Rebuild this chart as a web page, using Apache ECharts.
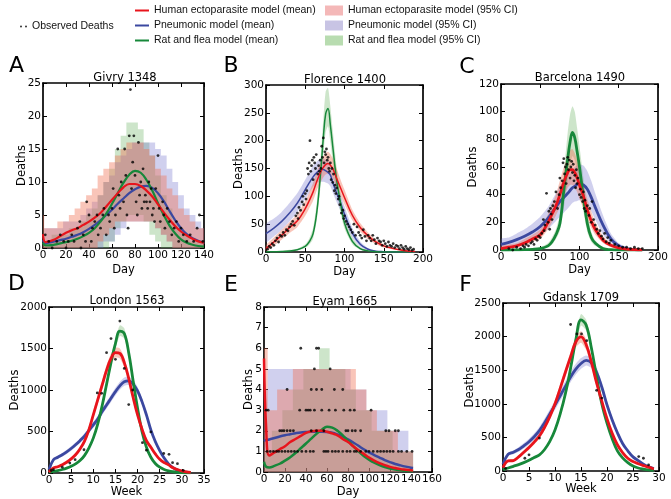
<!DOCTYPE html>
<html><head><meta charset="utf-8">
<script src="https://cdn.jsdelivr.net/npm/echarts@6/dist/echarts.min.js"></script>
<style>html,body{margin:0;padding:0;background:#fff}#c{width:671px;height:499px}</style>
</head><body><div id="c"></div>
<script>
// ---------------- Panel A: Givry 1348 (days) ----------------
const givryX        = [0,2,5,10,15,20,25,30,35,40,45,50,55,60,65,70,75,80,85,90,95,100,105,110,115,120,125,130,135,140];
const givryHumanMean= [2.1,0.9,1.0,1.3,1.8,2.3,2.7,3.0,3.5,4.0,4.6,5.3,6.3,7.3,8.3,9.2,9.7,9.7,9.4,8.7,7.8,6.6,5.4,4.3,3.3,2.5,1.9,1.4,1.0,0.8];
const givryHumanLo  = [0,0,0,0,0,0,0,0,0,0,0,1,2,3,4,4,4,4,4,4,4,3,2,1,0,0,0,0,0,0];
const givryHumanHi  = [5,3,3,3,4,4,5,6,7,8,9,11,12,13,14,15,16,16,16,15,14,12,11,9,8,6,5,4,3,3];
const givryPneuMean = [1.2,0.7,0.8,1.0,1.2,1.4,1.7,2.0,2.4,2.9,3.5,4.2,5.0,5.8,6.7,7.5,8.3,8.9,9.3,9.4,9.1,8.3,7.1,5.6,4.2,3.0,2.1,1.5,1.1,0.8];
const givryPneuLo   = [0,0,0,0,0,0,0,0,0,0,0,0,1,1,2,3,4,4,4,4,4,3,2,1,0,0,0,0,0,0];
const givryPneuHi   = [1,3,3,3,3,4,4,4,5,6,7,8,10,11,13,14,15,16,16,16,16,15,14,12,10,8,6,5,4,3];
const givryRatMean  = [0.8,0.4,0.4,0.5,0.7,0.9,1.1,1.4,1.8,2.3,3.0,4.0,5.2,6.7,8.3,9.9,11.1,11.7,11.4,10.3,8.7,6.8,5.0,3.4,2.2,1.3,0.8,0.5,0.3,0.2];
const givryRatLo    = [0,0,0,0,0,0,0,0,0,0,0,0,0,1,3,4,5,5,5,4,2,1,0,0,0,0,0,0,0,0];
const givryRatHi    = [1,1,1,2,2,2,3,3,4,5,6,8,10,12,15,17,19,19,18,16,14,11,8,6,4,3,2,1,1,1];
const givryObs = [[2,2],[5,1],[8,0],[12,1],[15,2],[18,1],[20,0],[22,1],[25,2],[27,1],[30,3],[32,4],[33,0],[35,2],[37,1],[38,7],[40,5],[42,1],[43,3],[45,4],[47,5],[48,2],[50,3],[52,5],[53,6],[55,2],[57,5],[58,4],[60,6],[61,9],[62,3],[63,5],[65,15],[66,8],[67,6],[68,10],[70,7],[71,15],[72,11],[73,5],[74,3],[75,17],[76,24],[77,9],[78,13],[79,17],[80,11],[81,7],[82,5],[83,16],[84,8],[85,10],[86,6],[87,12],[88,7],[89,8],[90,7],[91,6],[92,10],[93,7],[94,9],[95,5],[96,6],[97,4],[98,9],[100,14],[101,6],[102,4],[104,7],[105,5],[106,3],[108,6],[110,4],[112,2],[114,3],[116,4],[118,1],[120,3],[122,2],[125,1],[128,2],[131,1],[134,3],[136,5],[139,1]];

// ---------------- Panel B: Florence 1400 (days) ----------------
const florX         = [0,10,20,30,40,50,55,60,65,70,73,76,79,82,85,90,95,100,110,120,130,140,150,160,170,180,190];
const florHumanMean = [6,18,30,44,56,78,92,108,128,145,152,157,159,156,150,132,115,98,66,44,29,18,11,7,4,2,1];
const florHumanLo   = [2,11,22,34,45,65,78,92,112,127,134,139,141,138,133,117,101,86,57,37,23,14,8,5,3,1,0];
const florHumanHi   = [12,26,40,54,68,92,107,124,145,163,172,178,180,176,168,150,130,112,76,52,35,22,14,9,6,3,2];
const florPneuMean  = [33,43,55,70,88,112,124,135,143,148,148,146,143,138,125,106,88,68,34,14,5,1.5,0.5,0,0,0,0];
const florPneuLo    = [18,28,40,55,72,95,106,117,124,126,126,125,123,118,107,90,74,56,26,10,3,1,0,0,0,0,0];
const florPneuHi    = [50,60,72,88,106,130,142,155,163,168,168,166,164,158,145,124,103,82,43,19,7,2,1,0,0,0,0];
const florRatMean   = [0,0.5,1,2,4,10,18,33,75,150,205,248,258,228,190,129,88,52,19,6,2,0.5,0,0,0,0,0];
const florRatLo     = [0,0,0.5,1,3,7,13,24,60,125,175,215,226,198,162,108,70,42,14,4,1,0,0,0,0,0,0];
const florRatHi     = [1,1,2,4,6,14,24,43,92,178,238,288,295,262,220,152,104,64,26,9,3,1,0,0,0,0,0];
const florObs = [[2,5],[4,10],[6,8],[8,15],[10,12],[12,20],[14,25],[16,18],[18,30],[20,28],[22,35],[24,30],[26,40],[28,38],[30,45],[32,50],[34,55],[36,48],[38,65],[40,70],[41,60],[42,80],[44,75],[46,90],[47,100],[48,85],[50,105],[51,95],[52,110],[53,150],[54,140],[55,160],[56,200],[57,145],[58,155],[59,165],[60,130],[61,170],[62,160],[63,150],[64,175],[66,140],[67,155],[68,145],[69,165],[70,150],[71,190],[72,170],[73,205],[74,160],[75,180],[76,175],[77,185],[78,165],[79,170],[80,150],[81,145],[82,160],[83,130],[84,150],[85,125],[86,140],[87,110],[88,120],[89,105],[90,115],[92,95],[93,100],[94,85],[96,70],[98,75],[99,60],[100,65],[102,55],[104,50],[106,45],[108,40],[110,35],[112,50],[114,30],[116,45],[118,35],[120,30],[122,25],[124,40],[126,28],[128,20],[130,30],[132,25],[134,20],[136,30],[138,22],[140,15],[142,25],[144,20],[146,18],[148,12],[150,20],[152,15],[154,10],[156,18],[158,12],[160,10],[162,15],[164,8],[166,12],[168,10],[170,6],[172,12],[174,8],[176,5],[178,10],[180,6],[182,4],[184,8],[186,3],[188,5]];

// ---------------- Panel C: Barcelona 1490 (days) ----------------
const barcX         = [0,10,20,30,40,50,60,65,70,75,80,85,88,91,94,97,100,105,110,115,120,130,140,150,160,170,180];
const barcHumanMean = [1,2,3,5,8,11,20,26,32,40,49,56,58,58,56,52,47,39,29,21,15,7,3.5,1.5,0.7,0.3,0.1];
const barcHumanLo   = [0,1,2,3,6,8,15,20,25,31,39,45,47,47,45,42,37,30,23,16,11,5,2,1,0,0,0];
const barcHumanHi   = [3,4,5,8,11,15,26,33,40,50,60,68,72,73,70,65,58,48,37,28,20,10,5,2.5,1.5,1,0.5];
const barcPneuMean  = [4,5.5,7.5,10,13,17,23,27,31,35,38,41,43,45,46,47.5,48,47,44,38,31,18,8,3,1,0.3,0.1];
const barcPneuLo    = [1,2,3.5,5.5,8,11,15,18,21,24,27,30,32,34,35,35.5,36,35,33,28,22,11,5,1.5,0.5,0,0];
const barcPneuHi    = [8,9,12,15,19,24,31,36,41,46,50,54,56,58,60,61,62,61,57,50,41,25,12,5,2,1,0.5];
const barcRatMean   = [0,0,0.1,0.2,0.5,1,3,6,11,19,43,66,78,85,81,71,60,38,19,9,5,1,0.2,0,0,0,0];
const barcRatLo     = [0,0,0,0,0.2,0.5,2,4,8,14,30,50,60,68,65,55,44,28,13,6,3,0.5,0,0,0,0,0];
const barcRatHi     = [0.5,0.5,0.5,1,1.5,2,5,9,15,26,55,85,98,104,100,88,75,52,28,13,7,2,0.5,0,0,0,0];
const barcObs = [[10,1],[15,0],[20,2],[25,1],[28,3],[30,2],[32,4],[35,3],[38,5],[40,6],[42,4],[44,8],[46,7],[48,10],[50,9],[52,12],[54,22],[55,14],[56,18],[58,41],[60,20],[61,28],[62,15],[63,30],[64,26],[65,22],[66,32],[68,35],[70,42],[72,30],[74,40],[75,52],[76,45],[78,50],[79,63],[80,66],[81,55],[82,60],[83,48],[84,62],[85,67],[86,58],[87,65],[88,52],[89,60],[90,64],[91,56],[92,62],[93,50],[94,54],[95,45],[96,58],[97,48],[98,52],[100,40],[101,44],[102,38],[104,35],[105,42],[106,30],[107,36],[108,28],[110,32],[112,25],[113,30],[115,20],[116,35],[118,22],[120,18],[122,15],[124,12],[126,14],[128,10],[130,8],[132,12],[134,6],[136,9],[138,5],[140,7],[145,4],[150,3],[155,2],[160,2],[165,1],[170,2],[175,1],[180,1]];

// ---------------- Panel D: London 1563 (weeks) ----------------
const londX         = [0,1,2,3,4,5,6,7,8,9,10,11,12,13,14,15,16,17,18,19,20,21,22,23,24,25,26,27,28,29,30,31,32];
const londHumanMean = [10,60,75,100,130,170,220,290,380,520,700,880,1060,1240,1380,1450,1440,1330,1140,910,700,530,390,310,230,165,125,98,62,42,25,14,7];
const londHumanLo   = [0,45,60,82,110,148,195,262,348,482,655,830,1005,1180,1320,1390,1380,1270,1085,860,660,495,360,285,210,150,110,85,52,35,20,10,4];
const londHumanHi   = [20,75,90,118,150,192,245,318,412,558,745,930,1115,1300,1440,1510,1500,1390,1195,960,740,565,420,335,250,180,140,110,72,50,30,18,10];
const londPneuMean  = [40,160,190,220,255,295,340,390,445,510,580,650,740,820,900,980,1050,1100,1110,1070,990,860,700,520,380,270,180,110,65,35,18,10,5];
const londPneuLo    = [20,140,170,198,230,268,312,360,413,476,544,612,700,778,856,934,1002,1050,1058,1018,945,820,665,490,355,250,165,100,58,30,15,7,3];
const londPneuHi    = [60,180,210,242,280,322,368,420,477,544,616,688,780,862,944,1026,1098,1150,1162,1122,1035,900,735,550,405,290,195,120,72,40,21,13,7];
const londRatMean   = [10,20,30,42,58,80,110,150,210,300,420,590,810,1070,1330,1560,1710,1680,1450,1110,780,500,310,190,115,70,42,25,15,9,5,3,2];
const londRatLo     = [5,14,22,33,48,68,95,132,188,275,390,555,770,1020,1275,1500,1650,1620,1395,1065,745,475,292,178,106,63,37,21,12,7,3,2,1];
const londRatHi     = [15,26,38,51,68,92,125,168,232,325,450,625,850,1120,1385,1620,1780,1745,1505,1155,815,525,328,202,124,77,47,29,18,11,7,4,3];
const londObs = [[0.5,30],[1,40],[3,70],[4.7,120],[5.9,160],[7.9,280],[10.9,965],[11.9,960],[13,1450],[14,1620],[15,1370],[16,1830],[17,1260],[18,825],[18.9,1000],[21.1,365],[22,275],[23,495],[25.9,235],[27.1,225],[27.9,125],[29,112],[30.3,32]];

// ---------------- Panel E: Eyam 1665 (days) ----------------
const eyamX         = [0,2,5,10,15,20,25,30,35,40,45,50,55,60,65,70,75,80,85,90,95,100,105,110,115,120,125,130,135,140,142];
const eyamHumanMean = [5.5,2.2,0.8,0.95,1.1,1.25,1.45,1.6,1.75,1.9,1.97,2.0,2.0,1.95,1.87,1.78,1.6,1.45,1.25,1.05,0.88,0.7,0.55,0.43,0.33,0.25,0.19,0.14,0.11,0.08,0.07];
const eyamHumanLo   = [0,0,0,0,0,0,0,0,0,0,0,0,0,0,0,0,0,0,0,0,0,0,0,0,0,0,0,0,0,0,0];
const eyamHumanHi   = [6,6,3,3,4,4,4,5,5,5,5,5,5,5,5,5,5,5,5,4,4,3,3,2,2,2,2,1,1,1,1];
const eyamPneuMean  = [1.5,1.55,1.58,1.65,1.72,1.78,1.83,1.88,1.92,1.94,1.95,1.95,1.95,1.94,1.9,1.82,1.72,1.58,1.43,1.27,1.1,0.95,0.82,0.7,0.58,0.48,0.39,0.32,0.26,0.21,0.2];
const eyamPneuLo    = [0,0,0,0,0,0,0,0,0,0,0,0,0,0,0,0,0,0,0,0,0,0,0,0,0,0,0,0,0,0,0];
const eyamPneuHi    = [3,4,5,5,5,5,5,5,5,5,5,5,5,5,5,5,5,5,4,4,4,3,3,3,3,2,2,2,2,1,1];
const eyamRatMean   = [0.5,0.25,0.22,0.3,0.4,0.55,0.72,0.92,1.15,1.38,1.62,1.85,2.05,2.2,2.15,2.0,1.78,1.52,1.25,1.0,0.78,0.6,0.45,0.33,0.24,0.17,0.12,0.09,0.06,0.05,0.04];
const eyamRatLo     = [0,0,0,0,0,0,0,0,0,0,0,0,0,0,0,0,0,0,0,0,0,0,0,0,0,0,0,0,0,0,0];
const eyamRatHi     = [1,1,1,2,2,3,3,4,4,5,5,5,6,6,5,5,5,4,4,3,3,3,2,2,2,2,1,1,1,1,1];
const eyamObs = [[35,6],[50,6],[52,6],[48,5],[63,5],[22,4],[45,4],[50,4],[55,4],[67,4],[75,4],[2,3],[4,3],[34,3],[40,3],[42,3],[44,3],[48,3],[55,3],[62,3],[68,3],[76,3],[82,3],[86,3],[102,3],[15,2],[17,2],[19,2],[22,2],[25,2],[28,2],[45,2],[50,2],[57,2],[78,2],[80,2],[84,2],[87,2],[92,2],[116,2],[119,2],[125,2],[128,2],[3,1],[6,1],[9,1],[12,1],[14,1],[17,1],[20,1],[23,1],[26,1],[29,1],[32,1],[36,1],[40,1],[44,1],[47,1],[57,1],[59,1],[61,1],[65,1],[68,1],[71,1],[75,1],[79,1],[82,1],[86,1],[88,1],[92,1],[97,1],[100,1],[104,1],[108,1],[111,1],[114,1],[117,1],[120,1],[123,1],[128,1],[131,1],[136,1],[141,1]];

// ---------------- Panel F: Gdansk 1709 (weeks) ----------------
const gdanX         = [0,1,2,3,4,5,6,7,8,9,10,11,12,13,14,15,16,17,18,19,20,21,22,23,24,25,26,27,28,29];
const gdanHumanMean = [50,150,155,210,280,350,430,520,650,810,1000,1230,1470,1700,1920,1995,1880,1620,1310,1040,780,560,390,275,190,140,108,80,58,30];
const gdanHumanLo   = [30,130,135,185,252,318,395,482,608,762,945,1170,1405,1630,1840,1910,1800,1550,1250,990,740,530,365,255,172,125,95,68,48,20];
const gdanHumanHi   = [70,170,175,235,308,382,465,558,692,858,1055,1290,1535,1770,2000,2080,1960,1690,1370,1090,820,590,415,295,208,155,120,92,70,40];
const gdanPneuMean  = [100,250,280,320,375,435,510,600,720,850,980,1120,1260,1400,1515,1600,1645,1610,1470,1250,985,760,570,410,300,210,155,100,62,35];
const gdanPneuLo    = [70,225,250,285,335,390,460,545,660,785,910,1045,1180,1320,1435,1520,1570,1535,1400,1185,930,715,530,380,275,190,138,87,52,28];
const gdanPneuHi    = [130,275,310,355,415,480,560,655,780,915,1050,1195,1340,1480,1595,1680,1720,1685,1540,1315,1040,805,610,440,325,230,172,113,72,42];
const gdanRatMean   = [20,45,70,95,125,160,200,240,320,440,610,850,1150,1530,1950,2250,2170,1830,1400,1000,711,480,300,195,125,75,45,28,16,9];
const gdanRatLo     = [12,35,58,82,110,145,182,220,296,412,575,805,1095,1465,1870,2165,2090,1760,1345,960,680,458,285,184,117,70,41,25,14,7];
const gdanRatHi     = [28,55,82,108,140,175,218,260,344,468,645,895,1205,1595,2030,2335,2250,1900,1455,1040,742,502,315,206,133,80,49,31,18,11];
const gdanObs = [[0.5,40],[4.2,190],[5,240],[7,490],[13,2180],[14.2,2040],[15.1,2040],[16.1,1940],[18,1200],[19,1085],[26.1,215],[27,190],[28,90]];

// ---------------- Titles, letters, axis ticks ----------------
const panelTitles  = ['Givry 1348','Florence 1400','Barcelona 1490','London 1563','Eyam 1665','Gdansk 1709'];
const panelLetters = ['A','B','C','D','E','F'];
const xAxisMax      = [140,200,200,35,160,30];
const xAxisInterval = [20,50,50,5,20,5];
const yAxisMax      = [25,300,120,2000,8,2500];
const yAxisInterval = [5,50,20,500,1,500];
const xAxisNames    = ['Day','Day','Day','Week','Day','Week'];

const NAMES = {
  obs:'Observed Deaths',
  hm:'Human ectoparasite model (mean)', pm:'Pneumonic model (mean)', rm:'Rat and flea model (mean)',
  hc:'Human ectoparasite model (95% CI)', pc:'Pneumonic model (95% CI)', rc:'Rat and flea model (95% CI)'
};

const panels = [
  {x:givryX, h:[givryHumanMean,givryHumanLo,givryHumanHi], p:[givryPneuMean,givryPneuLo,givryPneuHi], r:[givryRatMean,givryRatLo,givryRatHi], obs:givryObs},
  {x:florX,  h:[florHumanMean,florHumanLo,florHumanHi],    p:[florPneuMean,florPneuLo,florPneuHi],    r:[florRatMean,florRatLo,florRatHi],    obs:florObs},
  {x:barcX,  h:[barcHumanMean,barcHumanLo,barcHumanHi],    p:[barcPneuMean,barcPneuLo,barcPneuHi],    r:[barcRatMean,barcRatLo,barcRatHi],    obs:barcObs},
  {x:londX,  h:[londHumanMean,londHumanLo,londHumanHi],    p:[londPneuMean,londPneuLo,londPneuHi],    r:[londRatMean,londRatLo,londRatHi],    obs:londObs},
  {x:eyamX,  h:[eyamHumanMean,eyamHumanLo,eyamHumanHi],    p:[eyamPneuMean,eyamPneuLo,eyamPneuHi],    r:[eyamRatMean,eyamRatLo,eyamRatHi],    obs:eyamObs},
  {x:gdanX,  h:[gdanHumanMean,gdanHumanLo,gdanHumanHi],    p:[gdanPneuMean,gdanPneuLo,gdanPneuHi],    r:[gdanRatMean,gdanRatLo,gdanRatHi],    obs:gdanObs}
];

// ---------------- Layout & style (kept apart from data) ----------------
const grids = [
  {left:43,  top:83,  width:161, height:165},
  {left:266, top:85,  width:157, height:167},
  {left:501, top:84,  width:158, height:166},
  {left:49,  top:307, width:155, height:166},
  {left:264, top:307, width:168, height:165},
  {left:503, top:303, width:156, height:168}
];
const yNameGap = [15,21,22,28,9,27];
const xNameGap = [16,14,14,13,14,12];
const lineW    = [2.2,1.5,2.8,2.8,2.5,2.8];
const stepBand = [true,false,false,false,true,false];
const titlePos = [[125,78],[345,80],[580,78.5],[127,301.5],[345,302],[581,298.5]];
const letterPos= [[16.5,66.5],[231,66.5],[467,67],[16.5,284],[231,285],[465.5,285]];

const C_LINE = {h:'#e8141c', p:'#3b48a0', r:'#17883a'};
const C_BAND = {h:'rgba(240,110,80,0.40)', p:'rgba(100,100,200,0.30)', r:'rgba(90,170,80,0.30)'};
const C_LEG  = {h:'#f4b8b8', p:'#c8c4e4', r:'#b8dcb0'};
const FONT = 'DejaVu Sans';

const xAxes = [], yAxes = [], series = [], graphics = [];

function bandSeries(name, fill, legendColor, xs, lo, hi, gi, step) {
  const n = xs.length;
  return {
    type:'custom', name, xAxisIndex:2*gi, yAxisIndex:2*gi, z:1, silent:true,
    itemStyle:{color:legendColor},
    data: xs.map((x,i)=>[x, lo[i], hi[i]]),
    encode:{x:0, y:[1,2]},
    renderItem(params, api) {
      if (params.dataIndex !== 0) return null;
      const top = [], bot = [];
      for (let i = 0; i < n; i++) {
        if (step) {
          const x0 = i === 0 ? xs[0] : (xs[i-1] + xs[i]) / 2;
          const x1 = i === n-1 ? xs[n-1] : (xs[i] + xs[i+1]) / 2;
          top.push(api.coord([x0, hi[i]]), api.coord([x1, hi[i]]));
          bot.push(api.coord([x0, lo[i]]), api.coord([x1, lo[i]]));
        } else {
          top.push(api.coord([xs[i], hi[i]]));
          bot.push(api.coord([xs[i], lo[i]]));
        }
      }
      return {type:'polygon', shape:{points: top.concat(bot.reverse()), smooth: step ? 0 : 0.2}, style:{fill}};
    }
  };
}
function meanSeries(name, color, xs, ys, gi, w) {
  return {type:'line', name, xAxisIndex:2*gi, yAxisIndex:2*gi, z:3, silent:true,
    data: xs.map((x,i)=>[x, ys[i]]), symbol:'none', smooth:0.4,
    lineStyle:{color, width:w}, itemStyle:{color}};
}
const plainNum = v => String(v);

panels.forEach((pd, gi) => {
  const axLine = {show:true, onZero:false, lineStyle:{color:'#000', width:1.7}};
  const axTick = {show:true, inside:true, length:4, lineStyle:{color:'#000', width:1}};
  const lab = {fontFamily:FONT, fontSize:10.5, color:'#000', margin:2, formatter:plainNum};
  const nameStyle = {fontFamily:FONT, fontSize:11.5, color:'#000'};
  xAxes.push({type:'value', gridIndex:gi, position:'bottom', min:0, max:xAxisMax[gi], interval:xAxisInterval[gi],
    splitLine:{show:false}, axisLine:axLine, axisTick:axTick, axisLabel:lab,
    name:xAxisNames[gi], nameLocation:'middle', nameGap:xNameGap[gi], nameMoveOverlap:false, nameTextStyle:nameStyle});
  xAxes.push({type:'value', gridIndex:gi, position:'top', min:0, max:xAxisMax[gi], interval:xAxisInterval[gi],
    splitLine:{show:false}, axisLine:axLine, axisTick:axTick, axisLabel:{show:false}});
  yAxes.push({type:'value', gridIndex:gi, position:'left', min:0, max:yAxisMax[gi], interval:yAxisInterval[gi],
    splitLine:{show:false}, axisLine:axLine, axisTick:axTick, axisLabel:lab,
    name:'Deaths', nameLocation:'middle', nameGap:yNameGap[gi], nameMoveOverlap:false, nameTextStyle:nameStyle});
  yAxes.push({type:'value', gridIndex:gi, position:'right', min:0, max:yAxisMax[gi], interval:yAxisInterval[gi],
    splitLine:{show:false}, axisLine:axLine, axisTick:axTick, axisLabel:{show:false}});

  const st = stepBand[gi];
  series.push(bandSeries(NAMES.rc, C_BAND.r, C_LEG.r, pd.x, pd.r[1], pd.r[2], gi, st));
  series.push(bandSeries(NAMES.pc, C_BAND.p, C_LEG.p, pd.x, pd.p[1], pd.p[2], gi, st));
  series.push(bandSeries(NAMES.hc, C_BAND.h, C_LEG.h, pd.x, pd.h[1], pd.h[2], gi, st));
  series.push({type:'scatter', name:NAMES.obs, xAxisIndex:2*gi, yAxisIndex:2*gi, z:4, silent:true,
    data:pd.obs, symbol:'circle', symbolSize:2.8, itemStyle:{color:'#000'}});
  series.push(meanSeries(NAMES.pm, C_LINE.p, pd.x, pd.p[0], gi, lineW[gi]));
  series.push(meanSeries(NAMES.rm, C_LINE.r, pd.x, pd.r[0], gi, lineW[gi]));
  series.push(meanSeries(NAMES.hm, C_LINE.h, pd.x, pd.h[0], gi, lineW[gi]));

  graphics.push({type:'text', x:titlePos[gi][0], y:titlePos[gi][1], z:10,
    style:{text:panelTitles[gi], font:'11.5px "DejaVu Sans"', fill:'#000', textAlign:'center', textVerticalAlign:'middle'}});
  graphics.push({type:'text', x:letterPos[gi][0], y:letterPos[gi][1], z:10,
    style:{text:panelLetters[gi], font:'22px "DejaVu Sans"', fill:'#000', textAlign:'center', textVerticalAlign:'middle'}});
});

const legText = {fontFamily:'Liberation Sans', fontSize:10.5, color:'#111'};
const lineIcon = 'path://M0,0H14V2H0Z';
const option = {
  animation:false,
  backgroundColor:'#fff',
  grid: grids.map(g => ({...g, containLabel:false, show:false})),
  xAxis: xAxes, yAxis: yAxes, series,
  graphic: graphics,
  legend: [
    {data:[{name:NAMES.obs, icon:'path://M0,1a1,1 0 1,0 2,0a1,1 0 1,0 -2,0M5,1a1,1 0 1,0 2,0a1,1 0 1,0 -2,0'}],
     left:20, top:21, padding:0, itemWidth:7, itemHeight:2, selectedMode:false, textStyle:legText},
    {data:[{name:NAMES.hm, icon:lineIcon, itemStyle:{color:C_LINE.h}},
           {name:NAMES.pm, icon:lineIcon, itemStyle:{color:C_LINE.p}},
           {name:NAMES.rm, icon:lineIcon, itemStyle:{color:C_LINE.r}}],
     orient:'vertical', left:135, top:5, padding:0, itemWidth:14, itemHeight:10, itemGap:4,
     selectedMode:false, textStyle:legText},
    {data:[{name:NAMES.hc, icon:'rect', itemStyle:{color:C_LEG.h}},
           {name:NAMES.pc, icon:'rect', itemStyle:{color:C_LEG.p}},
           {name:NAMES.rc, icon:'rect', itemStyle:{color:C_LEG.r}}],
     orient:'vertical', left:325, top:5, padding:0, itemWidth:18, itemHeight:10, itemGap:4, selectedMode:false, textStyle:legText}
  ]
};
const chart = echarts.init(document.getElementById('c'), null, {renderer:'canvas'});
chart.setOption(option);
</script></body></html>
